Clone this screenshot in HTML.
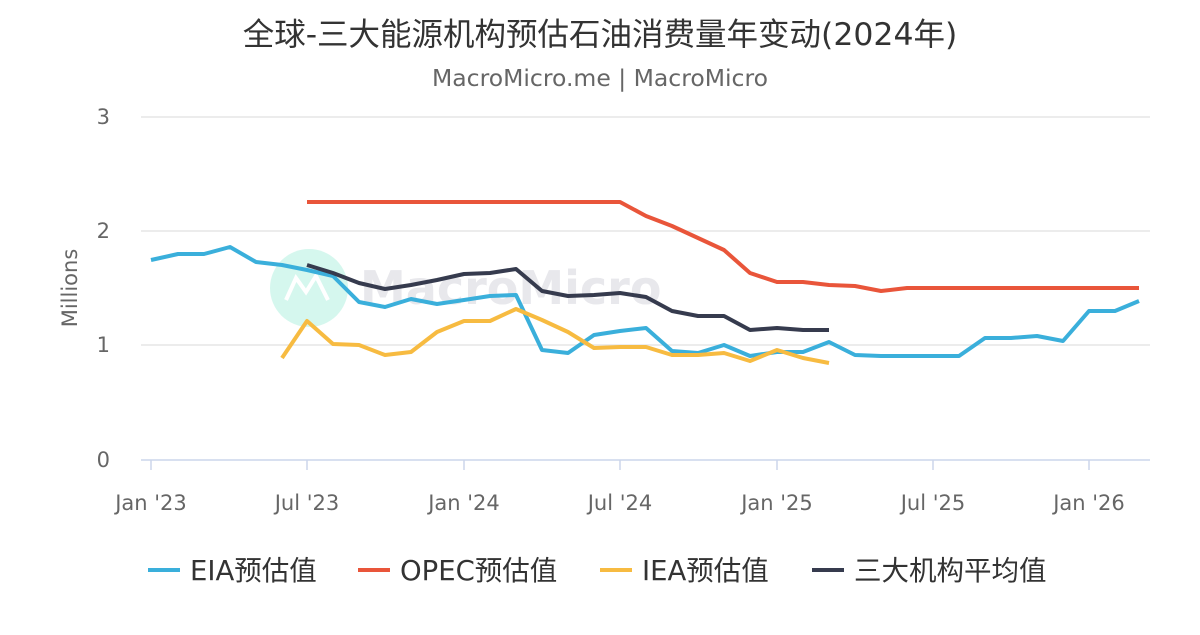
<!DOCTYPE html>
<html><head><meta charset="utf-8"><style>
body{margin:0;background:#fff;}
svg text{font-family:"DejaVu Sans","Noto Sans CJK SC",sans-serif;}
</style></head><body>
<svg width="1200" height="630" viewBox="0 0 1200 630" xmlns="http://www.w3.org/2000/svg">
<rect width="1200" height="630" fill="#fff"/>
<text x="600" y="45" text-anchor="middle" font-size="31.5" fill="#333">全球-三大能源机构预估石油消费量年变动(2024年)</text>
<text x="600" y="86" text-anchor="middle" font-size="23.5" fill="#666">MacroMicro.me | MacroMicro</text>
<g stroke="#e6e6e6" stroke-width="1.5">
<line x1="141" x2="1150" y1="117" y2="117"/><line x1="141" x2="1150" y1="231" y2="231"/><line x1="141" x2="1150" y1="345" y2="345"/>
</g>
<line x1="141" x2="1150" y1="460" y2="460" stroke="#ccd6eb" stroke-width="1.5"/>
<g stroke="#ccd6eb" stroke-width="1.5">
<line x1="151" x2="151" y1="460" y2="470"/><line x1="307" x2="307" y1="460" y2="470"/><line x1="464" x2="464" y1="460" y2="470"/><line x1="620" x2="620" y1="460" y2="470"/><line x1="777" x2="777" y1="460" y2="470"/><line x1="933" x2="933" y1="460" y2="470"/><line x1="1089" x2="1089" y1="460" y2="470"/>
</g>
<g font-size="21" fill="#666" text-anchor="end">
<text x="110" y="124">3</text><text x="110" y="238">2</text><text x="110" y="352">1</text><text x="110" y="467">0</text>
</g>
<text transform="translate(77,288) rotate(-90)" text-anchor="middle" font-size="21" fill="#666">Millions</text>
<g font-size="21" fill="#666" text-anchor="middle">
<text x="151" y="510">Jan '23</text><text x="307" y="510">Jul '23</text><text x="464" y="510">Jan '24</text><text x="620" y="510">Jul '24</text><text x="777" y="510">Jan '25</text><text x="933" y="510">Jul '25</text><text x="1089" y="510">Jan '26</text>
</g>
<ellipse cx="309" cy="288" rx="39" ry="39" fill="#d5f7ee"/>
<polyline points="286,300 296,278 306,292 316,276 328,300" fill="none" stroke="#fff" stroke-width="4"/>
<text x="360" y="304" font-size="46" font-weight="bold" fill="#e8e8ec">MacroMicro</text>
<g fill="none" stroke-width="4" stroke-linejoin="round">
<polyline stroke="#3aafdb" points="151,260 178,254 204,254 230,247 256,262 282,265 307,270 333,276 359,302 385,307 411,299 437,304 464,300 490,296 516,295 542,350 568,353 594,335 620,331 646,328 672,351 698,353 724,345 750,356 777,352 803,352 829,342 855,355 881,356 907,356 933,356 959,356 985,338 1011,338 1037,336 1063,341 1089,311 1115,311 1139,301"/>
<polyline stroke="#e9553a" points="307,202 620,202 646,216 672,226 698,238 724,250 750,273 777,282 803,282 829,285 855,286 881,291 907,288 1139,288"/>
<polyline stroke="#f7bb41" points="282,358 307,321 333,344 359,345 385,355 411,352 437,332 464,321 490,321 516,309 542,320 568,332 594,348 620,347 646,347 672,355 698,355 724,353 750,361 777,350 803,358 829,363"/>
<polyline stroke="#363b4e" points="307,265 333,273 359,283 385,289 411,285 437,280 464,274 490,273 516,269 542,291 568,296 594,295 620,293 646,297 672,311 698,316 724,316 750,330 777,328 803,330 829,330"/>
</g>
<g font-size="27.5" fill="#333">
<line x1="148" x2="180" y1="570" y2="570" stroke="#3aafdb" stroke-width="4"/><text x="190" y="580">EIA预估值</text>
<line x1="358" x2="390" y1="570" y2="570" stroke="#e9553a" stroke-width="4"/><text x="400" y="580">OPEC预估值</text>
<line x1="600" x2="632" y1="570" y2="570" stroke="#f7bb41" stroke-width="4"/><text x="642" y="580">IEA预估值</text>
<line x1="812" x2="844" y1="570" y2="570" stroke="#363b4e" stroke-width="4"/><text x="854" y="580">三大机构平均值</text>
</g>
</svg>
</body></html>
